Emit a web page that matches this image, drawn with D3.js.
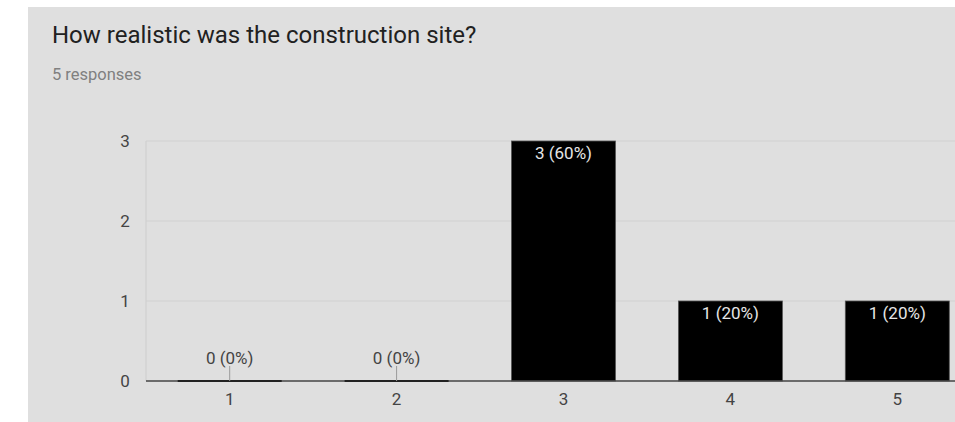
<!DOCTYPE html>
<html><head><meta charset="utf-8">
<script src="https://cdn.jsdelivr.net/npm/d3@7"></script>
<style>body{margin:0;background:#fff;overflow:hidden}svg{display:block}</style>
</head><body>
<svg id="c" width="955" height="422"></svg>
<script>
const categories = ["1","2","3","4","5"];
const counts = [0,0,3,1,1];
const yTicks = [0,1,2,3];
const title = "How realistic was the construction site?";
const subtitle = "5 responses";
const total = d3.sum(counts);

const svg = d3.select("#c");
svg.append("rect").attr("x",28).attr("y",7).attr("width",955).attr("height",422).attr("fill","#dfdfdf");
svg.append("text").attr("x",52).attr("y",43).attr("font-family","Roboto").attr("font-size",24).attr("fill","#212121").text(title);
svg.append("text").attr("x",52).attr("y",80).attr("font-family","Roboto").attr("font-size",16.5).attr("fill","#808080").text(subtitle);

const x0 = 146, y0 = 381;
const x = d3.scaleBand().domain(categories).range([x0, x0+167*5]).paddingInner(0.377).paddingOuter(0.19);
const y = d3.scaleLinear().domain([0,3]).range([y0, 141]);

const g = svg.append("g");
g.selectAll("line.grid").data(yTicks.filter(t=>t>0)).join("line")
  .attr("x1",x0).attr("x2",955).attr("y1",d=>y(d)).attr("y2",d=>y(d))
  .attr("stroke","#d2d2d2").attr("stroke-width",1.2);
g.append("line").attr("x1",x0).attr("x2",x0).attr("y1",y(3)).attr("y2",y0).attr("stroke","#d0d0d0").attr("stroke-width",1.2);
g.selectAll("text.yl").data(yTicks).join("text")
  .attr("x",125).attr("y",d=>y(d)+6).attr("text-anchor","middle")
  .attr("font-family","Roboto").attr("font-size",17).attr("fill","#444").text(d=>d);
const data = categories.map((c,i)=>({c, v:counts[i]}));
g.selectAll("rect.bar").data(data.filter(d=>d.v>0)).join("rect")
  .attr("x",d=>x(d.c)).attr("width",x.bandwidth())
  .attr("y",d=>y(d.v)).attr("height",d=>y0-y(d.v))
  .attr("fill","#000").attr("stroke","#555").attr("stroke-width",0.8);
g.append("line").attr("x1",x0).attr("x2",955).attr("y1",y0).attr("y2",y0).attr("stroke","#444").attr("stroke-width",1.6);
g.selectAll("line.zb").data(data.filter(d=>d.v===0)).join("line")
  .attr("x1",d=>x(d.c)).attr("x2",d=>x(d.c)+x.bandwidth()).attr("y1",y0).attr("y2",y0)
  .attr("stroke","#222").attr("stroke-width",2);
const pct = v => `${v} (${Math.round(v/total*100)}%)`;
g.selectAll("text.in").data(data.filter(d=>d.v>0)).join("text")
  .attr("x",d=>x(d.c)+x.bandwidth()/2).attr("y",d=>y(d.v)+18).attr("text-anchor","middle")
  .attr("font-family","Roboto").attr("font-size",17).attr("fill","#e6e6e6").text(d=>pct(d.v));
const zs = data.filter(d=>d.v===0);
g.selectAll("line.stem").data(zs).join("line")
  .attr("x1",d=>x(d.c)+x.bandwidth()/2).attr("x2",d=>x(d.c)+x.bandwidth()/2)
  .attr("y1",366).attr("y2",y0).attr("stroke","#9a9a9a").attr("stroke-width",1);
g.selectAll("text.out").data(zs).join("text")
  .attr("x",d=>x(d.c)+x.bandwidth()/2).attr("y",364).attr("text-anchor","middle")
  .attr("font-family","Roboto").attr("font-size",17).attr("fill","#444").text(d=>pct(d.v));
g.selectAll("text.xl").data(categories).join("text")
  .attr("x",d=>x(d)+x.bandwidth()/2).attr("y",405).attr("text-anchor","middle")
  .attr("font-family","Roboto").attr("font-size",17).attr("fill","#444").text(d=>d);
</script>
</body></html>
